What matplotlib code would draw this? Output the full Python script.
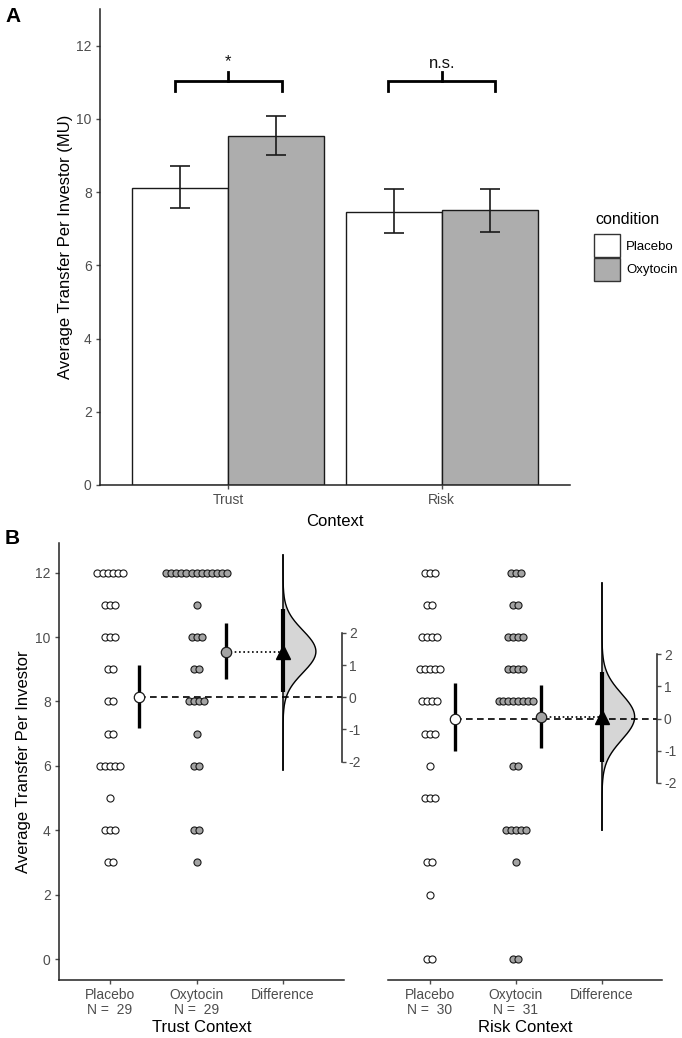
import numpy as np
import matplotlib
matplotlib.use('Agg')
import matplotlib.pyplot as plt
from matplotlib.patches import Patch

plt.rcParams['font.family'] = ['Liberation Sans', 'DejaVu Sans']
plt.rcParams['axes.unicode_minus'] = False

# ---------------- data ----------------
contexts = ['Trust', 'Risk']
conditions = ['Placebo', 'Oxytocin']

# Panel A: mean transfer and error bar limits per condition (Trust, Risk)
bar_placebo = [8.12, 7.46]
bar_oxytocin = [9.54, 7.51]
err_lo_placebo = [7.57, 6.89]
err_hi_placebo = [8.72, 8.09]
err_lo_oxytocin = [9.02, 6.92]
err_hi_oxytocin = [10.07, 8.09]
sig_labels = ['*', 'n.s.']

# Panel B: individual transfers (value levels and number of investors at each)
trust_placebo_values = [12, 11, 10, 9, 8, 7, 6, 5, 4, 3]
trust_placebo_counts = [6, 3, 3, 2, 2, 2, 5, 1, 3, 2]
trust_oxytocin_values = [12, 11, 10, 9, 8, 7, 6, 4, 3]
trust_oxytocin_counts = [13, 1, 3, 2, 4, 1, 2, 2, 1]
risk_placebo_values = [12, 11, 10, 9, 8, 7, 6, 5, 3, 2, 0]
risk_placebo_counts = [3, 2, 4, 5, 4, 3, 1, 3, 2, 1, 2]
risk_oxytocin_values = [12, 11, 10, 9, 8, 6, 4, 3, 0]
risk_oxytocin_counts = [3, 2, 4, 4, 8, 2, 5, 1, 2]

# group means and 95% CI
trust_means = [8.13, 9.53]
trust_ci_lo = [7.17, 8.70]
trust_ci_hi = [9.13, 10.43]
risk_means = [7.47, 7.52]
risk_ci_lo = [6.46, 6.55]
risk_ci_hi = [8.57, 8.50]

# mean differences (Oxytocin - Placebo), 95% CI, bootstrap range
trust_diff = 1.42
trust_diff_ci = [0.16, 2.73]
trust_diff_range = [-2.26, 4.42]
risk_diff = 0.05
risk_diff_ci = [-1.35, 1.44]
risk_diff_range = [-3.47, 4.21]

trust_n = [29, 29]
risk_n = [30, 31]

# ---------------- layout ----------------
W, H = 682, 1038
fig = plt.figure(figsize=(W / 100, H / 100), dpi=100)


def rect(l, t, r, b):
    return [l / W, 1 - b / H, (r - l) / W, (b - t) / H]


TICK = '#4D4D4D'
AXC = '#222222'
OXY_BAR = '#ADADAD'
OXY_PT = '#A3A3A3'
VIOLIN = '#D6D6D6'

# ---------------- Panel A ----------------
axA = fig.add_axes(rect(100, 9, 570, 485))
xc = np.arange(1, len(contexts) + 1)
bw = 0.45
series = [
    (bar_placebo, err_lo_placebo, err_hi_placebo, 'white'),
    (bar_oxytocin, err_lo_oxytocin, err_hi_oxytocin, OXY_BAR),
]
handles = []
for i, (m, lo, hi, col) in enumerate(series):
    m = np.array(m); lo = np.array(lo); hi = np.array(hi)
    xs = xc + (i - 0.5) * bw
    axA.bar(xs, m, width=bw, color=col, edgecolor='#1a1a1a', linewidth=1.0, zorder=2)
    axA.errorbar(xs, m, yerr=[m - lo, hi - m], fmt='none', ecolor='#1a1a1a',
                 elinewidth=1.2, capsize=7.5, capthick=1.2, zorder=3)
    handles.append(Patch(facecolor=col, edgecolor='#333333', linewidth=1.0, label=conditions[i]))

for j, lab in enumerate(sig_labels):
    c = xc[j]
    axA.plot([c - 0.25, c - 0.25, c + 0.25, c + 0.25], [10.75, 11.02, 11.02, 10.75],
             color='black', lw=2.0, solid_joinstyle='miter', zorder=3)
    axA.plot([c, c], [11.02, 11.27], color='black', lw=2.0, zorder=3)
    axA.text(c, 11.57 if lab == '*' else 11.52, lab, ha='center', va='center', fontsize=12, color='#111111')

axA.set_xlim(0.4, 2.6)
axA.set_ylim(0, 13)
axA.set_yticks([0, 2, 4, 6, 8, 10, 12])
axA.set_xticks(xc, contexts)
for s in ['top', 'right']:
    axA.spines[s].set_visible(False)
for s in ['left', 'bottom']:
    axA.spines[s].set_color(AXC)
    axA.spines[s].set_linewidth(1.1)
axA.tick_params(colors=TICK, labelsize=10, length=3, width=1, pad=3)
axA.set_xlabel('Context', fontsize=12, labelpad=5)
axA.set_ylabel('Average Transfer Per Investor (MU)', fontsize=12, va='center')
axA.yaxis.set_label_coords(-0.073, 0.5)

fig.text(595 / W, 1 - 219 / H, 'condition', fontsize=11.5, ha='left', va='center')
fig.legend(handles=handles, loc='upper left',
           bbox_to_anchor=(594 / W, 1 - 234 / H), frameon=False,
           fontsize=9.5, handlelength=1.95, handleheight=2.3,
           labelspacing=0.05, handletextpad=0.5, borderaxespad=0, borderpad=0.0)

fig.text(13 / W, 1 - 16 / H, 'A', fontsize=15, fontweight='bold', ha='center', va='center')
fig.text(12 / W, 1 - 538 / H, 'B', fontsize=15, fontweight='bold', ha='center', va='center')

# ---------------- Panel B ----------------
SP = 0.058  # horizontal spacing of swarm points (axis units)
YL = (-0.65, 12.92)


def swarm(ax, pos, values, counts, fc):
    for v, c in zip(values, counts):
        off = (np.arange(c) - (c - 1) / 2) * SP
        ax.scatter(pos + off, np.full(c, v), s=26, facecolor=fc, edgecolor='#1a1a1a',
                   linewidths=0.8, zorder=3)


def panel(ax, data, means, lo, hi, diff, dci, drange, ns, title, mean_off, sec_x, ylabel):
    (pv, pc), (ov, oc) = data
    swarm(ax, 0, pv, pc, 'white')
    swarm(ax, 1, ov, oc, OXY_PT)
    pm = means[0]
    # violin of difference distribution (normal approximation from CI)
    sd = (dci[1] - dci[0]) / 3.92
    yy = np.linspace(drange[0], drange[1], 400)
    ww = 0.38 * np.exp(-0.5 * ((yy - diff) / sd) ** 2)
    ax.fill_betweenx(pm + yy, 2, 2 + ww, color=VIOLIN, lw=0, zorder=2)
    ax.plot(2 + ww, pm + yy, color='black', lw=1.0, zorder=3)
    ax.plot([2, 2], [pm + drange[0], pm + drange[1]], color='black', lw=1.1, zorder=3)
    # reference lines
    ax.plot([mean_off, sec_x], [pm, pm], color='black', lw=1.2, ls=(0, (4, 2.6)), zorder=3.5)
    ax.plot([1 + mean_off, 2], [means[1], means[1]], color='black', lw=1.2, ls=(0, (1, 1.6)), zorder=3.5)
    # CI of groups
    for k, fc in enumerate(['white', OXY_PT]):
        ax.plot([k + mean_off, k + mean_off], [lo[k], hi[k]], color='black', lw=2.4,
                solid_capstyle='butt', zorder=4)
        ax.plot([k + mean_off], [means[k]], marker='o', ms=7.5, mfc=fc, mec='#1a1a1a',
                mew=0.9, zorder=5)
    # CI of difference
    ax.plot([2, 2], [pm + dci[0], pm + dci[1]], color='black', lw=3.0, solid_capstyle='butt', zorder=4)
    ax.plot([2], [pm + diff], marker='^', ms=10, color='black', zorder=5)

    ax.set_ylim(*YL)
    ax.set_xticks([0, 1, 2], ['Placebo\nN =  %d' % ns[0], 'Oxytocin\nN =  %d' % ns[1], 'Difference'])
    ax.set_xlabel(title, fontsize=12, labelpad=2)
    for s in ['top', 'right']:
        ax.spines[s].set_visible(False)
    ax.spines['bottom'].set_color(AXC)
    ax.spines['bottom'].set_linewidth(1.1)
    ax.tick_params(axis='x', colors=TICK, labelsize=10, length=3, width=1, pad=3)
    for t in ax.get_xticklabels():
        t.set_linespacing(1.05)
    if ylabel:
        ax.spines['left'].set_color(AXC)
        ax.spines['left'].set_linewidth(1.1)
        ax.set_yticks([0, 2, 4, 6, 8, 10, 12])
        ax.tick_params(axis='y', colors=TICK, labelsize=10, length=3, width=1, pad=3)
        ax.set_ylabel(ylabel, fontsize=12, va='center')
        ax.yaxis.set_label_coords(-0.123, 0.5)
    else:
        ax.spines['left'].set_visible(False)
        ax.set_yticks([])
    # secondary difference axis
    ax2 = ax.twinx()
    ax2.set_ylim(YL[0] - pm, YL[1] - pm)
    for s in ['top', 'left', 'bottom']:
        ax2.spines[s].set_visible(False)
    ax2.spines['right'].set_position(('data', sec_x))
    ax2.spines['right'].set_bounds(-2, 2)
    ax2.spines['right'].set_color(AXC)
    ax2.spines['right'].set_linewidth(1.1)
    ax2.set_yticks([-2, -1, 0, 1, 2])
    ax2.tick_params(axis='y', colors=TICK, labelsize=10, length=3, width=1, pad=2)


axT = fig.add_axes(rect(59, 543, 344, 980))
axT.set_xlim(-0.59, 2.705)
panel(axT, [(trust_placebo_values, trust_placebo_counts), (trust_oxytocin_values, trust_oxytocin_counts)],
      trust_means, trust_ci_lo, trust_ci_hi, trust_diff, trust_diff_ci, trust_diff_range,
      trust_n, 'Trust Context', 0.34, 2.68, 'Average Transfer Per Investor')

axR = fig.add_axes(rect(388, 543, 662, 980))
axR.set_xlim(-0.488, 2.698)
panel(axR, [(risk_placebo_values, risk_placebo_counts), (risk_oxytocin_values, risk_oxytocin_counts)],
      risk_means, risk_ci_lo, risk_ci_hi, risk_diff, risk_diff_ci, risk_diff_range,
      risk_n, 'Risk Context', 0.29, 2.64, None)

fig.savefig('out.png', dpi=100)
